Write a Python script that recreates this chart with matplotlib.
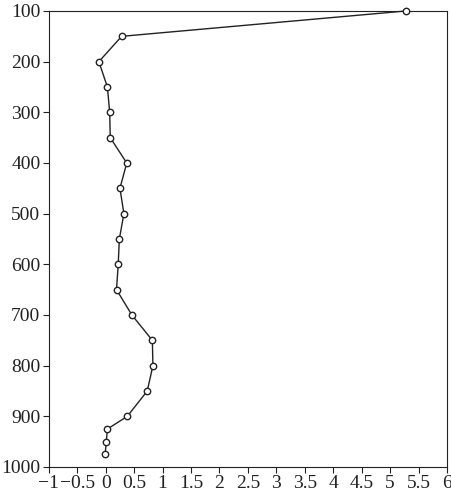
import matplotlib.pyplot as plt
import numpy as np

# depth levels and values
depth = [100, 150, 200, 250, 300, 350, 400, 450, 500, 550, 600, 650,
         700, 750, 800, 850, 900, 925, 950, 975]
value = [5.27, 0.28, -0.12, 0.03, 0.07, 0.08, 0.37, 0.25, 0.32, 0.24,
         0.22, 0.19, 0.46, 0.82, 0.83, 0.73, 0.38, 0.03, 0.01, -0.01]

xticks = np.arange(-1, 6.01, 0.5)
xlabels = ['\u22121', '\u22120.5', '0', '0.5', '1', '1.5', '2', '2.5', '3',
           '3.5', '4', '4.5', '5', '5.5', '6']
yticks = np.arange(100, 1001, 100)

plt.rcParams['font.family'] = ['Liberation Serif', 'DejaVu Serif']

fig = plt.figure(figsize=(4.52, 5), dpi=100)
ax = fig.add_axes([0.108, 0.066, 0.881, 0.912])

ax.plot(value, depth, color='#222222', lw=1.0, marker='o', ms=4.6,
        mfc='white', mec='#222222', mew=1.0, clip_on=False, zorder=3)

ax.set_xlim(-1, 6)
ax.set_ylim(1000, 100)
ax.set_xticks(xticks)
ax.set_xticklabels(xlabels)
ax.set_yticks(yticks)
ax.tick_params(labelsize=14, length=4, width=0.8, colors='#222222', pad=2)
for s in ax.spines.values():
    s.set_linewidth(0.8)
    s.set_color('#222222')

plt.savefig('out.png', dpi=100)
